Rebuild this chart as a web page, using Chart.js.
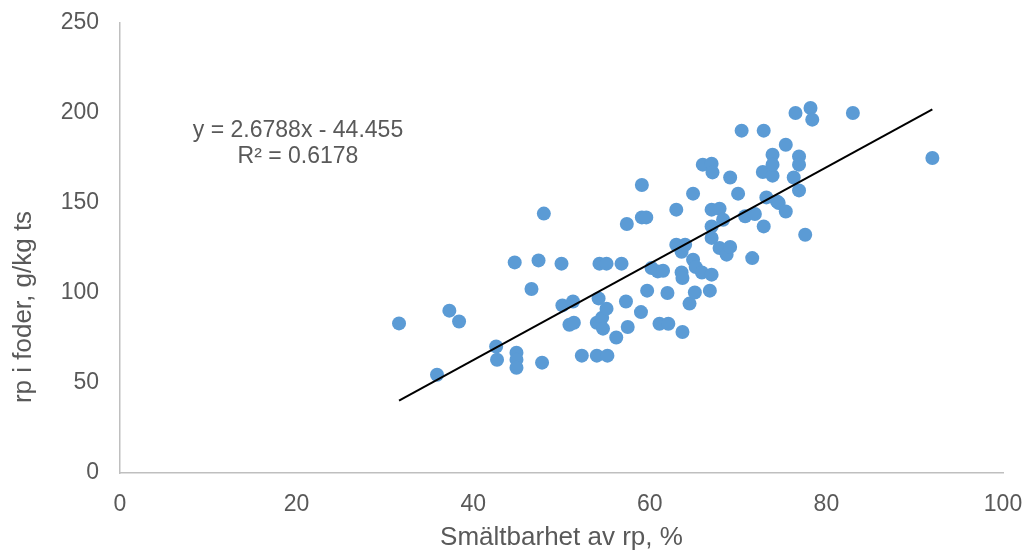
<!DOCTYPE html>
<html><head><meta charset="utf-8">
<script src="https://cdn.jsdelivr.net/npm/chart.js@4.4.1/dist/chart.umd.min.js"></script>
<style>html,body{margin:0;padding:0;background:#fff}#wrap{width:1028px;height:553px;position:relative}</style>
</head><body><div id="wrap"><canvas id="c" width="1028" height="553"></canvas></div>
<script>
const digestibility = [31.6,35.9,37.3,38.4,42.6,42.7,44.7,44.9,44.9,44.9,46.6,47.4,47.8,48.0,50.0,50.1,50.9,51.3,51.4,52.3,54.0,54.0,54.2,54.3,54.6,54.7,55.1,55.1,55.2,56.2,56.8,57.3,57.5,57.4,59.0,59.1,59.1,59.6,59.7,60.2,60.9,61.1,61.5,62.0,62.1,63.0,63.0,63.6,63.6,63.7,63.7,64.0,64.5,64.9,64.9,65.1,65.2,66.0,65.9,67.0,67.1,67.0,67.0,67.0,67.0,66.8,67.9,67.9,68.3,68.7,69.1,69.1,70.0,70.4,70.8,71.6,71.9,72.9,72.8,72.9,73.2,73.9,73.9,73.9,74.4,74.6,75.4,75.4,76.3,76.5,76.9,76.9,76.9,77.6,78.2,78.4,83.0,92.0];
const protein = [83.1,54.6,90.2,84.2,70.3,62.9,117.0,66.8,62.9,58.5,102.2,118.1,61.3,144.1,116.3,93.1,82.4,95.3,83.5,65.2,65.2,83.5,97.0,116.3,86.3,80.2,116.3,91.3,65.2,75.3,116.3,95.3,81.1,138.3,89.4,160.0,142.0,142.0,101.3,113.9,112.0,82.9,112.4,100.0,82.9,146.3,126.8,122.9,111.4,108.3,78.3,126.8,94.1,155.2,118.5,100.3,114.4,171.3,111.4,171.8,167.0,146.3,137.0,130.6,110.2,101.3,146.8,125.0,140.7,121.3,164.2,125.6,155.2,190.2,142.6,119.4,143.9,190.2,167.2,137.0,153.1,165.2,176.8,171.3,150.9,150.0,145.3,182.4,164.2,200.0,157.0,175.9,171.3,132.4,202.8,196.3,200.0,175.0];
const xTicks = [0,20,40,60,80,100];
const yTicks = [0,50,100,150,200,250];
const slope = 2.6788;
const intercept = -44.455;
const equationLines = ['y = 2.6788x - 44.455','R\u00B2 = 0.6178'];
const xTitle = 'Smältbarhet av rp, %';
const yTitle = 'rp i foder, g/kg ts';

const points = digestibility.map((x,i)=>({x:x,y:protein[i]}));
const xMin = Math.min(...digestibility), xMax = Math.max(...digestibility);
const trend = [{x:xMin,y:slope*xMin+intercept},{x:xMax,y:slope*xMax+intercept}];

const FONT = '"Liberation Sans", Arial, sans-serif';
const GREY = '#595959';

const textPlugin = {
  id:'texts',
  afterDraw(chart){
    const {ctx, chartArea:a} = chart;
    ctx.save();
    ctx.fillStyle = GREY;
    ctx.font = '23px ' + FONT;
    ctx.textAlign = 'center';
    ctx.textBaseline = 'middle';
    ctx.fillText(equationLines[0], a.left+178, a.top+107.3);
    ctx.fillText(equationLines[1], a.left+178, a.top+133.7);
    ctx.font = '26px ' + FONT;
    ctx.translate(24, a.top+284);
    ctx.rotate(-Math.PI/2);
    ctx.fillText(yTitle, 0, 0);
    ctx.restore();
  }
};

new Chart(document.getElementById('c'), {
  type:'scatter',
  data:{datasets:[
    {type:'line', data:trend, borderColor:'#000', borderWidth:2, pointRadius:0, fill:false, order:0},
    {data:points, backgroundColor:'#5B9BD5', borderColor:'#5B9BD5', borderWidth:0, pointRadius:7, pointHoverRadius:7, order:1}
  ]},
  options:{
    responsive:false, animation:false, devicePixelRatio:1,
    layout:{padding:{top:23,right:25,left:0,bottom:0}},
    plugins:{legend:{display:false}, tooltip:{enabled:false}},
    scales:{
      x:{type:'linear', min:0, max:100,
        afterBuildTicks(s){ s.ticks = xTicks.map(v=>({value:v})); },
        afterFit(s){ s.height = 80; s.paddingLeft = 0; s.paddingRight = 0; },
        grid:{display:false, drawTicks:false},
        border:{display:true, color:'#BFBFBF', width:1.5},
        ticks:{padding:18, color:GREY, font:{family:FONT, size:23}},
        title:{display:true, text:xTitle, color:GREY, font:{family:FONT, size:26}, padding:{top:0,bottom:0}}
      },
      y:{type:'linear', min:0, max:250,
        afterBuildTicks(s){ s.ticks = yTicks.map(v=>({value:v})); },
        afterFit(s){ s.width = 120; s.paddingTop = 0; s.paddingBottom = 0; },
        grid:{display:false, drawTicks:false},
        border:{display:true, color:'#BFBFBF', width:1.5},
        ticks:{padding:21, color:GREY, font:{family:FONT, size:23}}
      }
    }
  },
  plugins:[textPlugin]
});
</script></body></html>
